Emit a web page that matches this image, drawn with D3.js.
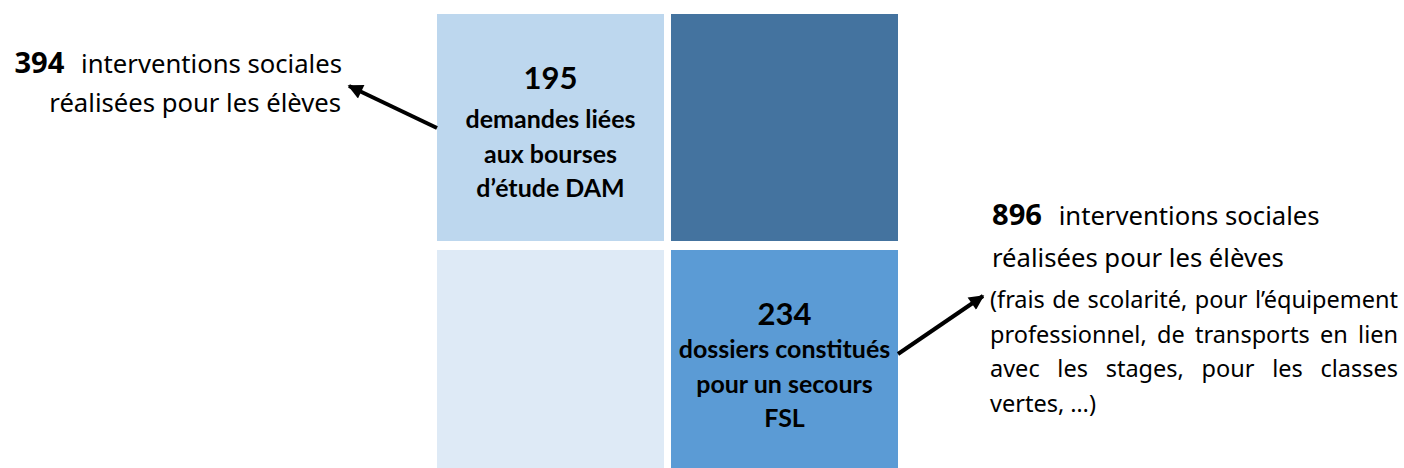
<!DOCTYPE html>
<html>
<head>
<meta charset="utf-8">
<script src="https://cdn.jsdelivr.net/npm/d3@7"></script>
<style>
  html, body { margin: 0; padding: 0; background: #ffffff; }
  svg { display: block; }
  text { font-family: "Noto Sans", "DejaVu Sans", sans-serif; fill: #000; }
  .cell-text { font-family: Lato, "Noto Sans", sans-serif; }
</style>
</head>
<body>
<svg id="chart" width="1404" height="468"></svg>
<script>
// ---------- data ----------
const columns = ["gauche", "droite"];
const rows = ["haut", "bas"];

const cellIds    = ["bourses", "bloc2", "bloc3", "fsl"];
const cellCols   = ["gauche", "droite", "gauche", "droite"];
const cellRows   = ["haut", "haut", "bas", "bas"];
const cellValues = [195, null, null, 234];
const cellLabels = [
  ["demandes liées", "aux bourses", "d’étude DAM"],
  [],
  [],
  ["dossiers constitués", "pour un secours", "FSL"]
];

const annotationValues = [394, 896];
const annotationTitles = [
  ["interventions sociales", "réalisées pour les élèves"],
  ["interventions sociales", "réalisées pour les élèves"]
];
const annotationDetails = [
  [],
  ["(frais de scolarité, pour l’équipement",
   "professionnel, de transports en lien",
   "avec les stages, pour les classes",
   "vertes, …)"]
];
const annotationCells = ["bourses", "fsl"];

// ---------- styles / layout ----------
const cellColors = {
  bourses: "#BDD7EE",
  bloc2: "#44739F",
  bloc3: "#DEEAF6",
  fsl: "#5B9BD5"
};
const cellTextLayout = {          // offsets from the cell top
  bourses: { num: 75, label: 114 },
  fsl:     { num: 75, label: 108 }
};

const svg = d3.select("#chart");

function fitSize(str, target, weight, base, cls) {
  const t = svg.append("text").attr("class", cls || null)
    .attr("font-size", base).attr("font-weight", weight).text(str);
  const w = t.node().getComputedTextLength();
  t.remove();
  return base * target / w;
}

const numSize = fitSize("195", 54, 700, 30, "cell-text");
const labelSize = fitSize("demandes liées", 170, 700, 22, "cell-text");
const annNumSize = fitSize("394", 50, 700, 24);
const annSize = fitSize("interventions sociales", 261, 400, 22);
const detailSize = fitSize("vertes, …)", 106, 400, 18);

const x = d3.scaleBand().domain(columns).range([437, 898]).paddingInner(7 / 234);
const y = d3.scaleBand().domain(rows).range([14, 477]).paddingInner(9 / 236);

const cells = cellIds.map((id, i) => ({
  id, col: cellCols[i], row: cellRows[i], value: cellValues[i], labels: cellLabels[i]
}));

svg.append("defs").append("marker")
  .attr("id", "arrow")
  .attr("viewBox", "0 0 10 10")
  .attr("refX", 9).attr("refY", 5)
  .attr("markerUnits", "userSpaceOnUse")
  .attr("markerWidth", 17).attr("markerHeight", 15)
  .attr("orient", "auto")
  .append("path").attr("d", "M0,0 L10,5 L0,10 Z").attr("fill", "#000");

// cells
svg.append("g").selectAll("rect")
  .data(cells).join("rect")
  .attr("x", d => x(d.col))
  .attr("y", d => y(d.row))
  .attr("width", x.bandwidth())
  .attr("height", y.bandwidth())
  .attr("fill", d => cellColors[d.id]);

// cell texts
const cellText = svg.append("g").selectAll("g")
  .data(cells.filter(d => d.value != null)).join("g")
  .attr("transform", d => `translate(${x(d.col) + x.bandwidth() / 2},${y(d.row)})`);

cellText.append("text")
  .attr("class", "cell-text")
  .attr("text-anchor", "middle")
  .attr("y", d => cellTextLayout[d.id].num)
  .attr("font-size", numSize)
  .attr("font-weight", 700)
  .text(d => d.value);

cellText.each(function (d) {
  const g = d3.select(this);
  d.labels.forEach((l, i) => {
    g.append("text")
      .attr("class", "cell-text")
      .attr("text-anchor", "middle")
      .attr("y", cellTextLayout[d.id].label + i * 34.5)
      .attr("font-size", labelSize)
      .attr("font-weight", 700)
      .text(l);
  });
});

// ---------- annotations ----------
const leftA = svg.append("g");
const l1 = leftA.append("text").attr("x", 342).attr("y", 73).attr("text-anchor", "end").attr("font-size", annSize);
l1.append("tspan").attr("font-weight", 700).attr("font-size", annNumSize).text(annotationValues[0]);
l1.append("tspan").attr("dx", 10).text(" " + annotationTitles[0][0]);
leftA.append("text").attr("x", 341).attr("y", 112).attr("text-anchor", "end").attr("font-size", annSize)
  .text(annotationTitles[0][1]);

const rightA = svg.append("g");
const r1 = rightA.append("text").attr("x", 992).attr("y", 225).attr("font-size", annSize);
r1.append("tspan").attr("font-weight", 700).attr("font-size", annNumSize).text(annotationValues[1]);
r1.append("tspan").attr("dx", 10).text(" " + annotationTitles[1][0]);
rightA.append("text").attr("x", 992).attr("y", 267).attr("font-size", annSize)
  .text(annotationTitles[1][1]);

const detailLeft = 990, detailRight = 1398;
annotationDetails[1].forEach((line, i) => {
  const t = rightA.append("text")
    .attr("x", detailLeft)
    .attr("y", 308 + i * 34.5)
    .attr("font-size", detailSize)
    .text(line);
  const last = i === annotationDetails[1].length - 1;
  if (!last) {
    const words = line.split(" ");
    const w = t.node().getComputedTextLength();
    const extra = (detailRight - detailLeft - w) / (words.length - 1);
    t.attr("word-spacing", extra);
  }
});

// arrows
const cellById = Object.fromEntries(cells.map(d => [d.id, d]));
const bc = cellById[annotationCells[0]];
const fc = cellById[annotationCells[1]];
svg.append("line")
  .attr("x1", x(bc.col)).attr("y1", y(bc.row) + 114)
  .attr("x2", 349).attr("y2", 86)
  .attr("stroke", "#000").attr("stroke-width", 4)
  .attr("marker-end", "url(#arrow)");
svg.append("line")
  .attr("x1", x(fc.col) + x.bandwidth()).attr("y1", y(fc.row) + 104)
  .attr("x2", 983).attr("y2", 296)
  .attr("stroke", "#000").attr("stroke-width", 4)
  .attr("marker-end", "url(#arrow)");
</script>
</body>
</html>
